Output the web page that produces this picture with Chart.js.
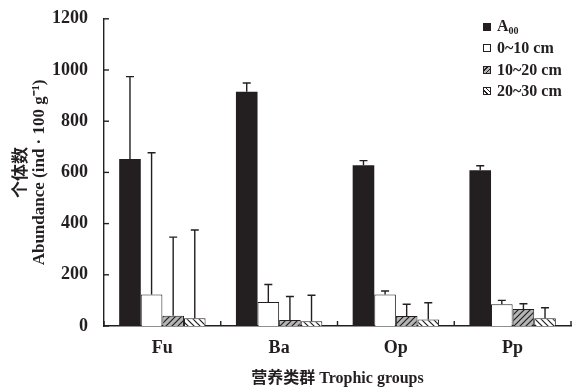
<!DOCTYPE html>
<html>
<head>
<meta charset="utf-8">
<script src="https://cdn.jsdelivr.net/npm/chart.js@4"></script>
<style>
  body { margin: 0; background: #fff; }
  #wrap { position: relative; width: 572px; height: 392px; }
  #legend {
    position: absolute; left: 483px; top: 16px;
    font: bold 16px 'Liberation Serif', serif; color: #231f20;
  }
  #legend .row { height: 21.5px; display: flex; align-items: center; white-space: nowrap; }
  #legend .sw { width: 8px; height: 8px; border: 1px solid #231f20; margin-right: 6px; box-sizing: border-box; }
  #legend sub { font-size: 10px; vertical-align: -3px; }
</style>
</head>
<body>
<div id="wrap">
  <canvas id="chAbund" width="572" height="392"></canvas>
  <div id="legend"></div>
</div>
<script>
// trophic groups, soil layers
const groups = ['Fu', 'Ba', 'Op', 'Pp'];
const layers = ['A00', '0~10 cm', '10~20 cm', '20~30 cm'];

const valA00 = [652, 915, 628, 608];
const val0to10 = [123, 94, 123, 85];
const val10to20 = [40, 23, 39, 66];
const val20to30 = [30, 19, 25, 30];

const errA00 = [322, 34, 18, 18];
const err0to10 = [554, 68, 14, 15];
const err10to20 = [307, 92, 46, 21];
const err20to30 = [345, 101, 66, 41];

const yTicks = [0, 200, 400, 600, 800, 1000, 1200];

const ink = '#231f20';

function hatch(bg, dir) {
    const c = document.createElement('canvas');
    c.width = 6; c.height = 6;
    const g = c.getContext('2d');
    g.fillStyle = bg;
    g.fillRect(0, 0, 6, 6);
    g.strokeStyle = ink;
    g.lineWidth = 1.2;
    g.beginPath();
    if (dir === '/') {
        g.moveTo(0, 6); g.lineTo(6, 0);
        g.moveTo(-1, 1); g.lineTo(1, -1);
        g.moveTo(5, 7); g.lineTo(7, 5);
    } else {
        g.moveTo(0, 0); g.lineTo(6, 6);
        g.moveTo(-1, 5); g.lineTo(1, 7);
        g.moveTo(5, -1); g.lineTo(7, 1);
    }
    g.stroke();
    return g.createPattern(c, 'repeat');
}

const ctx = document.getElementById('chAbund').getContext('2d');
const fills = [ink, '#ffffff', hatch('#b5b5b5', '/'), hatch('#ffffff', '\\')];
const values = [valA00, val0to10, val10to20, val20to30];
const errors = [errA00, err0to10, err10to20, err20to30];

// error bars + inward tick marks
const extras = {
    id: 'extras',
    afterDatasetsDraw(chart) {
        const c = chart.ctx;
        const y = chart.scales.y;
        c.save();
        c.strokeStyle = ink;
        c.lineWidth = 1.4;
        chart.data.datasets.forEach((ds, di) => {
            const meta = chart.getDatasetMeta(di);
            meta.data.forEach((bar, i) => {
                const top = y.getPixelForValue(ds.data[i]);
                const eTop = y.getPixelForValue(ds.data[i] + errors[di][i]);
                c.beginPath();
                c.moveTo(bar.x, top);
                c.lineTo(bar.x, eTop);
                c.moveTo(bar.x - 4, eTop);
                c.lineTo(bar.x + 4, eTop);
                c.stroke();
            });
        });
        // y ticks, pointing into the plot
        const area = chart.chartArea;
        yTicks.forEach(v => {
            const py = y.getPixelForValue(v);
            c.beginPath();
            c.moveTo(area.left, py);
            c.lineTo(area.left + 5, py);
            c.stroke();
        });
        // category boundary ticks
        for (let i = 0; i <= groups.length; i++) {
            const px = area.left + (area.right - area.left) * i / groups.length;
            c.beginPath();
            c.moveTo(px, area.bottom);
            c.lineTo(px, area.bottom - 5);
            c.stroke();
        }
        c.restore();
    }
};

new Chart(ctx, {
    type: 'bar',
    data: {
        labels: groups,
        datasets: layers.map((name, i) => ({
            label: name,
            data: values[i],
            backgroundColor: fills[i],
            borderColor: ink,
            borderWidth: i === 0 ? 0 : 1,
            categoryPercentage: 0.74,
            barPercentage: 1
        }))
    },
    options: {
        responsive: false,
        devicePixelRatio: 1,
        animation: false,
        layout: { padding: { top: 17, right: 1, left: 0, bottom: 0 } },
        plugins: {
            legend: { display: false },
            tooltip: { enabled: false }
        },
        scales: {
            x: {
                grid: { display: false },
                border: { display: true, color: ink, width: 1.4 },
                ticks: {
                    color: ink, padding: 4,
                    font: { family: "'Liberation Serif', serif", size: 18, weight: 'bold' }
                },
                title: {
                    display: true,
                    text: '营养类群 Trophic groups',
                    color: ink,
                    padding: { top: 14 },
                    font: { family: "'Liberation Serif', 'Noto Sans CJK SC', serif", size: 16, weight: 'bold' }
                },
                afterFit: s => { s.height = 66; }
            },
            y: {
                min: 0, max: 1200,
                grid: { display: false },
                border: { display: true, color: ink, width: 1.4 },
                ticks: {
                    stepSize: 200, color: ink, padding: 8,
                    callback: v => String(v),
                    font: { family: "'Liberation Serif', serif", size: 18, weight: 'bold' }
                },
                title: {
                    display: true,
                    text: ['个体数', 'Abundance (ind · 100 g\u207B\u00B9)'],
                    color: ink,
                    padding: { top: 12, bottom: 0 },
                    font: { family: "'Liberation Serif', 'Noto Sans CJK SC', serif", size: 17, weight: 'bold', lineHeight: 1.1 }
                },
                afterFit: s => { s.width = 104; }
            }
        }
    },
    plugins: [extras]
});

// legend
const legendBg = [
    ink,
    '#ffffff',
    'repeating-linear-gradient(135deg, #b5b5b5 0 2px, #231f20 2px 3px)',
    'repeating-linear-gradient(45deg, #ffffff 0 2px, #231f20 2px 3px)'
];
const legendText = ['A<sub>00</sub>', '0~10 cm', '10~20 cm', '20~30 cm'];
document.getElementById('legend').innerHTML = legendText.map((t, i) =>
    `<div class="row"><span class="sw" style="background:${legendBg[i]}"></span><span>${t}</span></div>`
).join('');
</script>
</body>
</html>
